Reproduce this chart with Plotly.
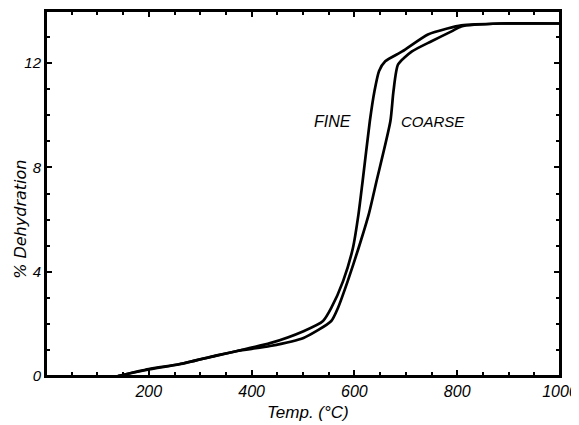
import plotly.graph_objects as go

# curve data
temp_fine = [140, 200, 260, 330, 372, 436, 501, 539, 555, 578, 597, 608, 616, 630, 639, 648, 660, 693, 743, 781, 808, 885, 1000]
dehyd_fine = [0, 0.27, 0.46, 0.77, 0.96, 1.26, 1.72, 2.11, 2.61, 3.64, 4.90, 6.21, 7.47, 9.77, 10.92, 11.7, 12.07, 12.45, 13.10, 13.33, 13.45, 13.52, 13.52]

temp_coarse = [140, 200, 260, 330, 372, 436, 501, 555, 568, 587, 608, 628, 643, 670, 676, 685, 712, 750, 789, 808, 885, 1000]
dehyd_coarse = [0, 0.25, 0.45, 0.78, 0.96, 1.15, 1.46, 2.11, 2.61, 3.64, 4.90, 6.21, 7.47, 9.77, 10.92, 11.95, 12.45, 12.84, 13.22, 13.41, 13.52, 13.52]

x_ticks = [200, 400, 600, 800, 1000]
y_ticks = [0, 4, 8, 12]

def italic(size, family="Liberation Sans"):
    return dict(family=family, size=size, color="black", style="italic")

fig = go.Figure()
fig.add_trace(go.Scatter(x=temp_fine, y=dehyd_fine, mode="lines", name="FINE",
                         line=dict(color="black", width=2.7, shape="spline", smoothing=0.6)))
fig.add_trace(go.Scatter(x=temp_coarse, y=dehyd_coarse, mode="lines", name="COARSE",
                         line=dict(color="black", width=2.7, shape="spline", smoothing=0.6)))

# page body has an 8px margin, so the figure is a bit smaller than the window
fig.update_layout(
    width=571, height=417,
    margin=dict(l=38, r=15, t=1, b=49),
    plot_bgcolor="white", paper_bgcolor="white",
    showlegend=False,
    annotations=[
        dict(x=557, y=9.77, text="FINE", showarrow=False, font=italic(16)),
        dict(x=753, y=9.77, text="COARSE", showarrow=False, font=italic(15)),
        dict(x=-0.051, y=0.43, xref="paper", yref="paper", text="% Dehydration",
             textangle=-90, showarrow=False, xanchor="center", yanchor="middle",
             font=italic(16, "DejaVu Sans")),
        dict(x=0.509, y=-0.10, xref="paper", yref="paper", text="Temp. (°C)",
             showarrow=False, font=italic(17), xanchor="center", yanchor="middle"),
    ],
    shapes=[dict(type="rect", xref="paper", yref="paper", x0=0, x1=1, y0=0, y1=1,
                 line=dict(color="black", width=2))],
)
fig.update_xaxes(range=[0, 1000], tickvals=x_ticks, ticks="inside", ticklen=6, tickwidth=1.5,
                 tickcolor="black", showline=True, linewidth=2, linecolor="black", mirror="ticks",
                 showgrid=False, zeroline=False, tickfont=italic(16), ticklabeloverflow="allow",
                 minor=dict(dtick=50, ticks="inside", ticklen=4, tickcolor="black", showgrid=False))
fig.update_yaxes(range=[0, 14], tickvals=y_ticks, ticks="inside", ticklen=6, tickwidth=1.5,
                 tickcolor="black", showline=True, linewidth=2, linecolor="black", mirror="ticks",
                 showgrid=False, zeroline=False, tickfont=italic(15), ticklabeloverflow="allow",
                 minor=dict(dtick=1, ticks="inside", ticklen=4, tickcolor="black", showgrid=False))

fig.write_html("out.html")
